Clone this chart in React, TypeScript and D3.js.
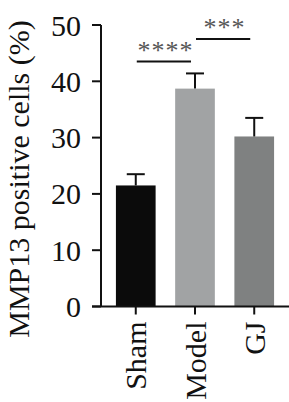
import * as d3 from "d3"

const groups = ["Sham", "Model", "GJ"]
const means = [21.5, 38.7, 30.2]
const errors = [2.0, 2.7, 3.3]
const colors = ["#0b0b0b", "#a1a3a4", "#7f8181"]
const yTicks = [0, 10, 20, 30, 40, 50]
const sigPairs: [number, number, string][] = [
  [0, 1, "****"],
  [1, 2, "***"],
]
const sigLevels = [43.5, 47.5]

const W = 289
const H = 402
const font = "'Liberation Serif', serif"

export default function App() {
  const left = 101
  const right = 287
  const y = d3.scaleLinear().domain([0, 50]).range([306.5, 25])
  const x = d3.scaleBand().domain(groups).range([110, 280]).paddingInner(0.33).paddingOuter(0.1)
  const bw = x.bandwidth()

  return (
    <svg width={W} height={H} style={{ position: "absolute", left: 0, top: 0 }}>
      <rect width={W} height={H} fill="#fff" />
      {groups.map((g, i) => {
        const cx = (x(g) || 0) + bw / 2
        return (
          <g key={g}>
            <rect x={x(g)} y={y(means[i])} width={bw} height={y(0) - y(means[i])} fill={colors[i]} />
            <line x1={cx} x2={cx} y1={y(means[i])} y2={y(means[i] + errors[i])} stroke="#111" strokeWidth={2} />
            <line x1={cx - 9} x2={cx + 9} y1={y(means[i] + errors[i])} y2={y(means[i] + errors[i])} stroke="#111" strokeWidth={2} />
          </g>
        )
      })}
      <line x1={left} x2={left} y1={y(50)} y2={y(0)} stroke="#111" strokeWidth={2} />
      <line x1={92} x2={right + 2} y1={y(0)} y2={y(0)} stroke="#111" strokeWidth={2} />
      {yTicks.map((t) => (
        <g key={t}>
          <line x1={92} x2={left} y1={y(t)} y2={y(t)} stroke="#111" strokeWidth={2} />
          <text x={81} y={y(t)} dy="0.35em" textAnchor="end" fontFamily={font} fontSize={30} fill="#111">
            {t}
          </text>
        </g>
      ))}
      {groups.map((g) => {
        const cx = (x(g) || 0) + bw / 2
        return (
          <g key={g}>
            <line x1={cx} x2={cx} y1={y(0)} y2={y(0) + 8} stroke="#111" strokeWidth={2} />
            <text
              transform={`translate(${cx},${y(0) + 15}) rotate(-90)`}
              dy="0.35em"
              textAnchor="end"
              fontFamily={font}
              fontSize={30}
              fill="#111"
            >
              {g}
            </text>
          </g>
        )
      })}
      {sigPairs.map(([a, b, label], i) => {
        const xa = (x(groups[a]) || 0) + bw / 2
        const xb = (x(groups[b]) || 0) + bw / 2
        const ly = y(sigLevels[i])
        return (
          <g key={label}>
            <line x1={xa + 1} x2={xb - 4} y1={ly} y2={ly} stroke="#111" strokeWidth={2} />
            <text
              x={(xa + xb) / 2}
              y={ly - 3}
              textAnchor="middle"
              fontFamily={font}
              fontSize={26}
              letterSpacing={1}
              fill="#555"
            >
              {label}
            </text>
          </g>
        )
      })}
      <text
        transform={`translate(29,179) rotate(-90)`}
        textAnchor="middle"
        fontFamily={font}
        fontSize={30}
        fill="#111"
      >
        MMP13 positive cells (%)
      </text>
    </svg>
  )
}
